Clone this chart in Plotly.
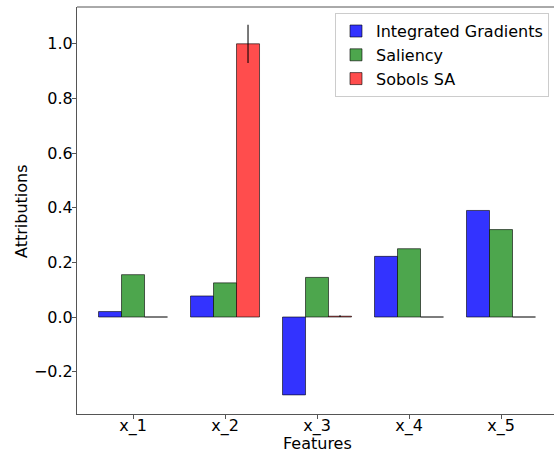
import plotly.graph_objects as go

features = ["x_1", "x_2", "x_3", "x_4", "x_5"]
ig_values = [0.02, 0.077, -0.285, 0.222, 0.39]
saliency_values = [0.155, 0.125, 0.145, 0.25, 0.32]
sobol_values = [0.0, 1.0, 0.003, 0.0, 0.0]
sobol_errors = [0.0, 0.07, 0.003, 0.0, 0.0]
y_ticks = [-0.2, 0.0, 0.2, 0.4, 0.6, 0.8, 1.0]

FONT = "DejaVu Sans"
edge = dict(color="rgba(0,0,0,0.6)", width=1)

fig = go.Figure()
fig.add_trace(go.Bar(x=features, y=ig_values, name="Integrated Gradients",
                     marker=dict(color="#3333ff", line=edge)))
fig.add_trace(go.Bar(x=features, y=saliency_values, name="Saliency",
                     marker=dict(color="#4da64d", line=edge)))
fig.add_trace(go.Bar(x=features, y=sobol_values, name="Sobols SA",
                     marker=dict(color="#ff4d4d", line=edge),
                     error_y=dict(type="data", array=sobol_errors, visible=True,
                                  color="rgba(0,0,0,0.7)", thickness=1.5, width=0)))

fig.update_layout(
    width=554, height=454,
    margin=dict(l=77, r=0, t=7, b=40),
    paper_bgcolor="white", plot_bgcolor="white",
    font=dict(family=FONT, size=16, color="black"),
    barmode="group", bargap=0.25, bargroupgap=0,
    showlegend=True,
    legend=dict(x=0.9895, y=0.985, xanchor="right", yanchor="top",
                bgcolor="rgba(255,255,255,0.8)", bordercolor="#cccccc", borderwidth=1,
                font=dict(family=FONT, size=16), tracegroupgap=0),
    xaxis=dict(range=[-0.609, 4.576], showline=True, linecolor="#555555", linewidth=1,
               ticks="outside", ticklen=4, tickcolor="#555555", showgrid=False,
               zeroline=False, automargin=False, ticklabelstandoff=-7),
    yaxis=dict(range=[-0.355, 1.1347], showline=True, linecolor="#555555", linewidth=1,
               ticks="outside", ticklen=4, tickcolor="#555555", showgrid=False,
               zeroline=False, tickvals=y_ticks, tickformat=".1f", automargin=False,
               ticklabelstandoff=-4),
    annotations=[
        dict(text="Features", xref="paper", yref="paper", x=(317 - 77) / 477,
             y=-(443 - 414) / 407, xanchor="center", yanchor="middle",
             showarrow=False, font=dict(family=FONT, size=16)),
        dict(text="Attributions", xref="paper", yref="paper", x=-(77 - 22) / 477,
             y=(414 - 211) / 407, xanchor="center", yanchor="middle", textangle=-90,
             showarrow=False, font=dict(family=FONT, size=16)),
    ],
    shapes=[
        dict(type="line", xref="paper", yref="paper", x0=0.998, x1=0.998, y0=0, y1=1,
             layer="above", line=dict(color="white", width=6)),
        dict(type="line", xref="paper", yref="paper", x0=0, x1=1, y0=1, y1=1,
             layer="above", line=dict(color="#555555", width=1)),
    ],
)

fig.write_html("out.html", config={"displayModeBar": False, "staticPlot": True},
               post_script="document.body.style.margin='0';document.body.style.overflow='hidden';"
                           "document.querySelectorAll('.draglayer').forEach(function(e){e.style.display='none';});")
